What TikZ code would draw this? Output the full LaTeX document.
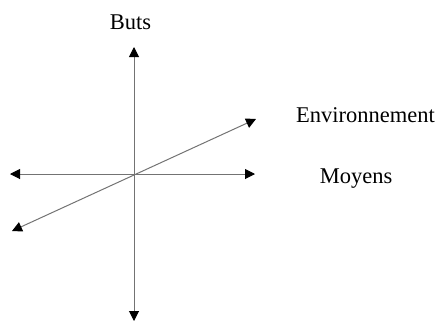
\documentclass[tikz,border=0pt]{standalone}
\usepackage{fontspec}
\setmainfont{Liberation Serif}
\usetikzlibrary{arrows.meta}
\begin{document}
\begin{tikzpicture}[x=1pt,y=-1pt,
  axis/.style={draw=black!55, line width=1pt,
    {Triangle[color=black,length=10pt,width=10pt]}-{Triangle[color=black,length=10pt,width=10pt]}},
  lbl/.style={font=\fontsize{22.5}{26}\selectfont, anchor=base, inner sep=0pt}]
  \useasboundingbox (0,0) rectangle (438,322);
  % axis ends and origin
  \coordinate (o) at (134,174);
  \coordinate (top) at (134,47);
  \coordinate (bot) at (134,321);
  \coordinate (lft) at (10,174);
  \coordinate (rgt) at (255,174);
  \coordinate (dne) at (256,119);
  \coordinate (dsw) at (12,231);
  % axes
  \draw[axis] (bot) -- (top);
  \draw[axis] (lft) -- (rgt);
  \draw[axis] (dsw) -- (dne);
  % labels
  \node[lbl] (buts) at (130.5,29) {Buts};
  \node[lbl] (env) at (365.5,122) {Environnement};
  \node[lbl] (moy) at (356,183) {Moyens};
\end{tikzpicture}
\end{document}
